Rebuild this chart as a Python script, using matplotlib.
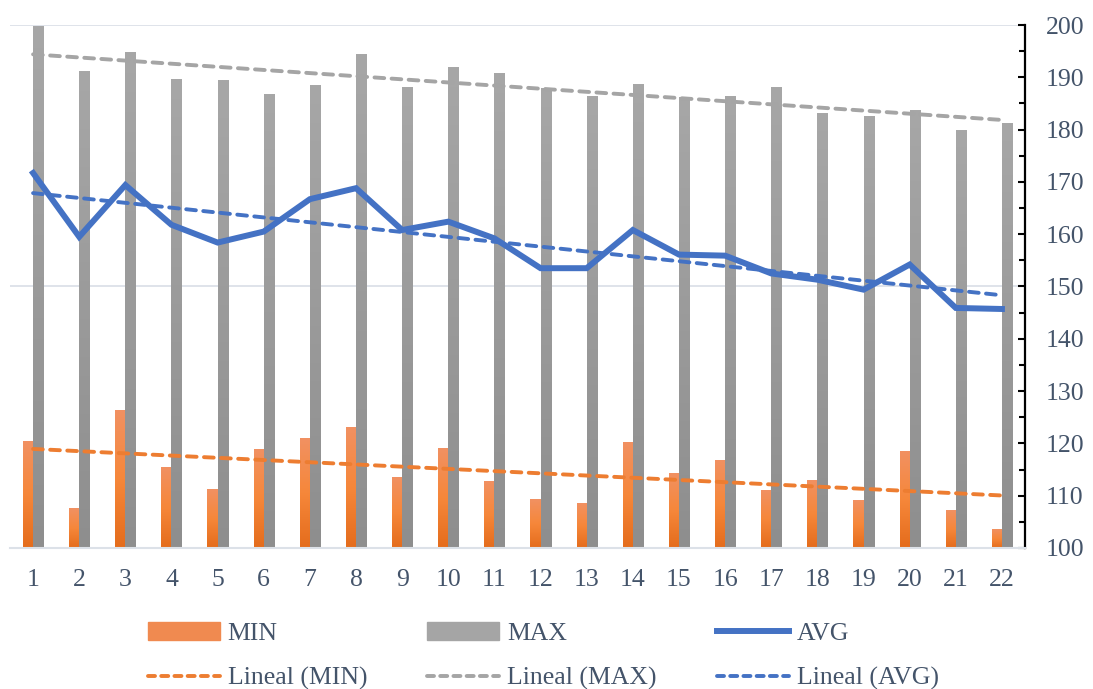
import numpy as np
import matplotlib
matplotlib.use("Agg")
import matplotlib.pyplot as plt
from matplotlib.colors import LinearSegmentedColormap
from matplotlib.patches import Patch
from matplotlib.lines import Line2D

# data
days = np.arange(1, 23)
min_vals = [120.3, 107.5, 126.2, 115.3, 111.1, 118.8, 120.9, 123.0, 113.4, 119.0, 112.7,
            109.2, 108.5, 120.1, 114.2, 116.7, 110.9, 113.0, 109.0, 118.4, 107.1, 103.5]
max_vals = [199.7, 191.2, 194.8, 189.5, 189.3, 186.8, 188.4, 194.4, 188.1, 191.8, 190.8,
            187.9, 186.4, 188.7, 186.2, 186.3, 188.0, 183.0, 182.5, 183.7, 179.9, 181.2]
avg_vals = [171.7, 159.5, 169.4, 161.8, 158.4, 160.5, 166.7, 168.8, 160.8, 162.4, 159.2,
            153.5, 153.5, 160.8, 156.1, 155.9, 152.5, 151.3, 149.4, 154.2, 145.9, 145.7]

ORANGE = "#ED7D31"
GRAY = "#A5A5A5"
BLUE = "#4472C4"
TXT = "#44546A"

plt.rcParams['font.family'] = ['Liberation Serif', 'DejaVu Serif']

fig = plt.figure(figsize=(10.93, 6.89), dpi=100)
ax = fig.add_axes([10/1093, 1 - 548/689, 1015/1093, 523/689])

BASE = 100
w = 0.22
grad = np.linspace(1, 0, 256).reshape(-1, 1)
cm_min = LinearSegmentedColormap.from_list("o", ["#E46C1C", "#F6873A", "#F19162"])
cm_max = LinearSegmentedColormap.from_list("g", ["#8E8E8E", "#A7A7A7"])

def grad_bars(xs, vals, cmap):
    bars = ax.bar(xs, np.array(vals) - BASE, bottom=BASE, width=w, color="none", zorder=2)
    for b in bars:
        x0, y0 = b.get_xy()
        ax.imshow(grad, extent=[x0, x0 + b.get_width(), y0, y0 + b.get_height()],
                  aspect="auto", cmap=cmap, origin="upper", zorder=2, interpolation="bilinear")

grad_bars(days - w/2, min_vals, cm_min)
grad_bars(days + w/2, max_vals, cm_max)

ax.plot(days, avg_vals, color=BLUE, lw=4.3, zorder=4, solid_joinstyle="miter")

# linear trendlines like the spreadsheet adds
dash = dict(lw=2.8, dashes=(2.5, 1.9), dash_capstyle="round", zorder=3)
for vals, col in [(min_vals, ORANGE), (max_vals, GRAY), (avg_vals, BLUE)]:
    k, c = np.polyfit(days, vals, 1)
    ax.plot(days, k * days + c, color=col, **dash)

ax.set_xlim(0.5, 22.5)
ax.set_ylim(100, 200)

for y in (150, 200):
    ax.axhline(y, color="#DCE1E8", lw=1.3, zorder=1)

for s in ("left", "top"):
    ax.spines[s].set_visible(False)
ax.spines["bottom"].set_color("#DCE1E8")
ax.spines["bottom"].set_linewidth(1.5)
ax.spines["right"].set_color("black")
ax.spines["right"].set_linewidth(1.6)

ax.yaxis.tick_right()
ax.set_yticks(np.arange(100, 201, 10))
ax.set_yticks(np.arange(105, 200, 10), minor=True)
ax.tick_params(axis="y", which="major", direction="in", length=5, width=1.5,
               labelsize=18.5, labelcolor=TXT, pad=15)
ax.tick_params(axis="y", which="minor", direction="in", length=4, width=1.5)
ax.set_xticks(days)
ax.tick_params(axis="x", length=0, labelsize=18.5, labelcolor=TXT, pad=15)

leg_dash = dict(lw=2.8, dashes=(1.8, 1.6), dash_capstyle="round")
handles = [Patch(color="#F08A50"), Line2D([], [], color=ORANGE, **leg_dash),
           Patch(color="#A5A5A5"), Line2D([], [], color=GRAY, **leg_dash),
           Line2D([], [], color=BLUE, lw=4.3), Line2D([], [], color=BLUE, **leg_dash)]
labels = ["MIN", "Lineal (MIN)", "MAX", "Lineal (MAX)", "AVG", "Lineal (AVG)"]
fig.legend(handles, labels, ncol=3, loc="center", bbox_to_anchor=(0.497, 0.048),
           frameon=False, fontsize=18.5, labelcolor=TXT, handlelength=2.8,
           handletextpad=0.3, columnspacing=2.35, labelspacing=0.85)

fig.savefig("out.png", dpi=100)
